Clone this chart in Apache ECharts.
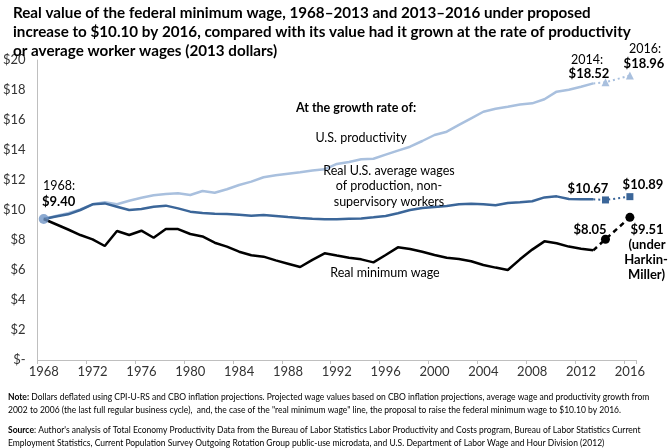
<!DOCTYPE html>
<html>
<head>
<meta charset="utf-8">
<script src="https://cdn.jsdelivr.net/npm/echarts@6/dist/echarts.min.js"></script>
<style>
html,body{margin:0;padding:0;background:#fff;}
#chart{width:669px;height:448px;}
</style>
</head>
<body>
<div id="chart"></div>
<script>
// ---- Data ----
const years = [];
for (let y = 1968; y <= 2016; y++) years.push(String(y));

// 1968–2013 (2013 dollars)
const productivity = [9.40, 9.60, 9.78, 10.04, 10.38, 10.51, 10.38, 10.62, 10.82, 10.98,
  11.07, 11.11, 11.00, 11.27, 11.15, 11.38, 11.67, 11.89, 12.18, 12.31,
  12.42, 12.51, 12.64, 12.71, 13.07, 13.20, 13.38, 13.42, 13.69, 13.96,
  14.22, 14.60, 15.00, 15.22, 15.67, 16.11, 16.55, 16.75, 16.89, 17.04,
  17.11, 17.38, 17.89, 18.02, 18.22, 18.44];
const avgWages = [9.40, 9.56, 9.71, 10.00, 10.38, 10.44, 10.22, 10.00, 10.07, 10.22,
  10.29, 10.11, 9.89, 9.80, 9.75, 9.73, 9.69, 9.62, 9.67, 9.60,
  9.53, 9.47, 9.42, 9.38, 9.38, 9.42, 9.44, 9.51, 9.60, 9.78,
  10.00, 10.13, 10.20, 10.27, 10.38, 10.42, 10.38, 10.31, 10.47, 10.51,
  10.58, 10.84, 10.91, 10.73, 10.71, 10.71];
const minWage = [9.40, 9.05, 8.70, 8.33, 8.04, 7.60, 8.60, 8.33, 8.62, 8.15,
  8.73, 8.73, 8.40, 8.24, 7.82, 7.56, 7.22, 6.98, 6.89, 6.64,
  6.42, 6.20, 6.67, 7.11, 6.96, 6.82, 6.71, 6.51, 7.00, 7.51,
  7.40, 7.22, 7.00, 6.82, 6.73, 6.58, 6.33, 6.16, 6.00, 6.71,
  7.36, 7.91, 7.78, 7.56, 7.42, 7.31];

// projections
const projYears = ['2014', '2016'];
const productivityProj = [18.52, 18.96];
const avgWagesProj = [10.67, 10.89];
const minWageProj = [8.05, 9.51];

// ---- Build helpers ----
function solid(arr) {
  return years.map((y, i) => (i < arr.length ? arr[i] : null));
}
function proj(arr, p) {
  const lastIdx = arr.length - 1;
  return years.map((y, i) => {
    if (i === lastIdx) return { value: arr[lastIdx], symbolSize: 0 };
    const k = projYears.indexOf(y);
    if (k >= 0) return p[k];
    return null;
  });
}
const start = years.map((y, i) => (i === 0 ? minWage[0] : null));

const LIGHT = '#a9c0de';
const MID = '#3b6699';
const FONT = 'Lato, "Open Sans", sans-serif';

const chart = echarts.init(document.getElementById('chart'), null, { renderer: 'canvas' });

function txt(text, x, y, opts) {
  opts = opts || {};
  return {
    type: 'text', z: 100,
    style: {
      text: text, x: x, y: y,
      fill: opts.fill || '#000',
      font: (opts.bold ? 'bold ' : '') + (opts.size || 13) + 'px ' + FONT,
      textAlign: opts.align || 'center',
      textVerticalAlign: 'middle'
    }
  };
}

const notes = {
  type: 'text', z: 100,
  style: {
    x: 8, y: 391,
    text: '{b|Note:} Dollars deflated using CPI-U-RS and CBO inflation projections. Projected wage values based on CBO inflation projections, average wage and productivity growth from\n' +
          '2002 to 2006 (the last full regular business cycle),  and, the case of the "real minimum wage" line, the proposal to raise the federal minimum wage to $10.10 by 2016.\n' +
          '{s| }\n' +
          '{b|Source}: Author\'s analysis of Total Economy Productivity Data from the Bureau of Labor Statistics Labor Productivity and Costs program, Bureau of Labor Statistics Current\n' +
          'Employment Statistics, Current Population Survey Outgoing Rotation Group public-use microdata, and U.S. Department of Labor Wage and Hour Division (2012)',
    font: '8.5px ' + FONT,
    fill: '#000',
    lineHeight: 13,
    rich: {
      b: { fontWeight: 'bold', fontSize: 8.5, fontFamily: FONT, lineHeight: 13 },
      s: { lineHeight: 7, fontSize: 4 }
    }
  }
};

const option = {
  animation: false,
  backgroundColor: '#fff',
  textStyle: { fontFamily: FONT },
  title: {
    text: 'Real value of the federal minimum wage, 1968–2013 and 2013–2016 under proposed\nincrease to $10.10 by 2016, compared with its value had it grown at the rate of productivity\nor average worker wages (2013 dollars)',
    left: 8, top: -1,
    textStyle: { fontSize: 15.2, fontWeight: 'bold', color: '#000', lineHeight: 19, fontFamily: FONT }
  },
  grid: { left: 37, right: 33, top: 60, bottom: 88, containLabel: false },
  xAxis: {
    type: 'category', data: years, boundaryGap: true,
    axisLine: { lineStyle: { color: '#bfbfbf', width: 1 } },
    axisTick: { show: true, interval: 3, length: 4, lineStyle: { color: '#bfbfbf' } },
    axisLabel: { interval: 3, fontSize: 13, color: '#333', margin: 5, fontFamily: FONT },
    splitLine: { show: false }
  },
  yAxis: {
    type: 'value', min: 0, max: 20, interval: 2,
    axisLine: { show: true, lineStyle: { color: '#bfbfbf', width: 1 } },
    axisTick: { show: false },
    splitLine: { show: false },
    axisLabel: { fontSize: 13, color: '#333', margin: 12, fontFamily: FONT,
      formatter: v => (v === 0 ? '$-' : '$' + v) }
  },
  series: [
    { name: 'U.S. productivity', type: 'line', data: solid(productivity), symbol: 'none',
      lineStyle: { color: LIGHT, width: 2.5 }, z: 2 },
    { name: 'Average wages', type: 'line', data: solid(avgWages), symbol: 'none',
      lineStyle: { color: MID, width: 2.5 }, z: 3 },
    { name: 'Real minimum wage', type: 'line', data: solid(minWage), symbol: 'none',
      lineStyle: { color: '#000', width: 2.5 }, z: 4 },
    { name: 'prodProj', type: 'line', data: proj(productivity, productivityProj), connectNulls: true,
      symbol: 'triangle', symbolSize: 8, showAllSymbol: true,
      itemStyle: { color: LIGHT }, lineStyle: { color: LIGHT, width: 2, type: [2, 3] }, z: 2 },
    { name: 'wageProj', type: 'line', data: proj(avgWages, avgWagesProj), connectNulls: true,
      symbol: 'rect', symbolSize: 7, showAllSymbol: true,
      itemStyle: { color: MID }, lineStyle: { color: MID, width: 2, type: [2, 3] }, z: 3 },
    { name: 'minProj', type: 'line', data: proj(minWage, minWageProj), connectNulls: true,
      symbol: 'circle', symbolSize: 9, showAllSymbol: true,
      itemStyle: { color: '#000' }, lineStyle: { color: '#000', width: 2.5, type: [5, 4] }, z: 4 },
    { name: 'start', type: 'scatter', data: start, symbol: 'circle', symbolSize: 10,
      itemStyle: { color: '#6f93c4' }, z: 5 }
  ],
  graphic: [
    txt('1968:', 43, 186, { align: 'left', size: 12.5 }),
    txt('$9.40', 42, 202, { align: 'left', bold: true, size: 13 }),
    txt('At the growth rate of:', 356, 108, { bold: true, size: 12.5 }),
    txt('U.S. productivity', 361, 138, { size: 12.5 }),
    txt('Real U.S. average wages', 389, 171, { size: 12.5 }),
    txt('of production, non-', 389, 186, { size: 12.5 }),
    txt('supervisory workers', 389, 201.5, { size: 12.5 }),
    txt('Real minimum wage', 385, 273, { size: 12.5 }),
    txt('2014:', 587, 60, { size: 12.5 }),
    txt('$18.52', 589, 74, { bold: true, size: 13 }),
    txt('2016:', 645, 49, { size: 12.5 }),
    txt('$18.96', 644, 64, { bold: true, size: 13 }),
    txt('$10.67', 588, 189, { bold: true, size: 13 }),
    txt('$10.89', 643, 185, { bold: true, size: 13 }),
    txt('$8.05', 590, 230, { bold: true, size: 13 }),
    txt('$9.51', 647, 230, { bold: true, size: 13 }),
    txt('(under', 647, 245, { bold: true, size: 13 }),
    txt('Harkin-', 646, 260, { bold: true, size: 13 }),
    txt('Miller)', 646.5, 275, { bold: true, size: 13 }),
    notes
  ]
};
chart.setOption(option);
</script>
</body>
</html>
